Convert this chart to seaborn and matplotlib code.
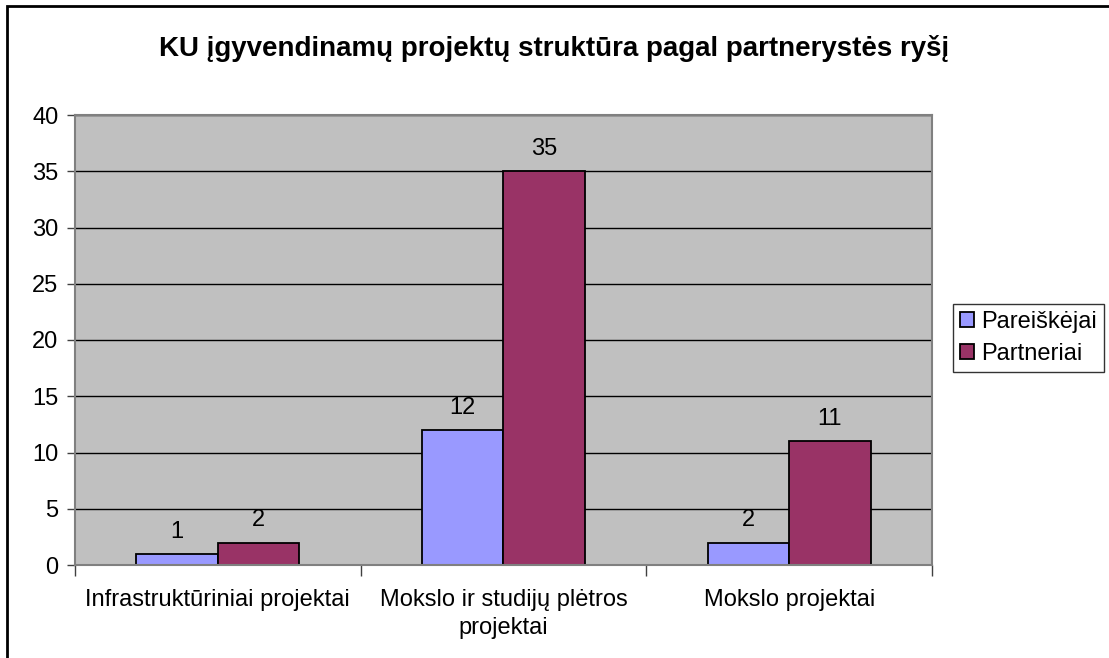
import seaborn as sns
import matplotlib.pyplot as plt
import pandas as pd
from matplotlib.patches import Rectangle

categories = ['Infrastruktūriniai projektai', 'Mokslo ir studijų plėtros\nprojektai', 'Mokslo projektai']
series = ['Pareiškėjai', 'Partneriai']
pareiskejai = [1, 12, 2]
partneriai = [2, 35, 11]
colors = ['#9999FF', '#993366']

df = pd.DataFrame({
    'kategorija': categories * 2,
    'serija': [series[0]] * 3 + [series[1]] * 3,
    'kiekis': pareiskejai + partneriai,
})

sns.set_style('white')
plt.rcParams['font.family'] = ['Liberation Sans', 'DejaVu Sans']
plt.rcParams['text.color'] = 'black'
plt.rcParams['xtick.color'] = 'black'
plt.rcParams['ytick.color'] = 'black'

fig = plt.figure(figsize=(11.09, 6.58), dpi=100)
ax = fig.add_axes([75 / 1109, 1 - 565 / 658, 857 / 1109, 450 / 658])

sns.barplot(data=df, x='kategorija', y='kiekis', hue='serija', palette=colors,
            saturation=1, width=0.571, edgecolor='black', linewidth=1.3, ax=ax, legend=True)

ax.set_facecolor('#C0C0C0')
ax.set_ylim(0, 40)
ax.set_xlim(-0.5, 2.5)
ax.set_yticks(range(0, 41, 5))
ax.yaxis.grid(True, color='black', linewidth=1)
ax.set_axisbelow(True)
for s in ax.spines.values():
    s.set_color('#808080')
    s.set_linewidth(1.5)
ax.tick_params(axis='y', which='major', direction='out', length=6, width=1,
               color='#404040', labelcolor='black', labelsize=17, pad=6, left=True)
ax.tick_params(axis='x', which='major', length=0, labelcolor='black', labelsize=17, pad=17)
ax.set_xticks([-0.5, 0.5, 1.5, 2.5], minor=True)
ax.tick_params(axis='x', which='minor', direction='out', length=8, width=1,
               color='#404040', bottom=True)
for t in ax.get_xticklabels():
    t.set_linespacing(1.35)
ax.set_xlabel('')
ax.set_ylabel('')

for cont in ax.containers:
    ax.bar_label(cont, padding=8, fontsize=17, color='black')

handles, labels = ax.get_legend_handles_labels()
leg = ax.legend(handles, labels, loc='center left', bbox_to_anchor=(953 / 1109, 1 - 338 / 658),
                bbox_transform=fig.transFigure, frameon=True, fancybox=False,
                fontsize=17, handlelength=0.6, handleheight=0.6, handletextpad=0.3,
                borderpad=0.3, labelspacing=0.4, borderaxespad=0, labelcolor='black')
leg.get_frame().set_edgecolor('black')
leg.get_frame().set_linewidth(1)

fig.text(0.5, 1 - 48 / 658, 'KU įgyvendinamų projektų struktūra pagal partnerystės ryšį',
         ha='center', va='center', fontsize=20, fontweight='bold', color='black')

fig.patches.append(Rectangle((7 / 1109, -0.1), 1.2, 1 - 6.5 / 658 + 0.1, transform=fig.transFigure,
                             fill=False, edgecolor='black', linewidth=2))

fig.savefig('out.png', dpi=100)
